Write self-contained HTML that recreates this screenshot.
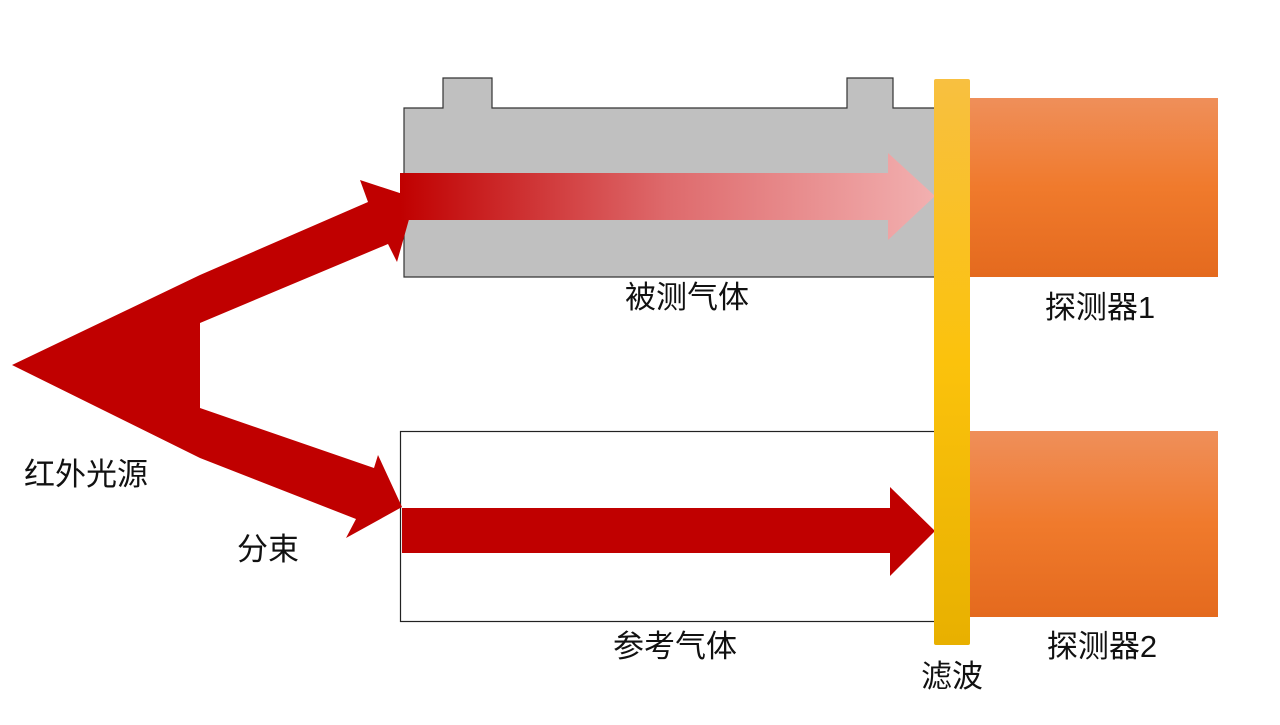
<!DOCTYPE html>
<html><head><meta charset="utf-8"><style>
body{margin:0;background:#fff;}
svg text{font-family:"Liberation Sans","Noto Sans CJK SC",sans-serif;font-size:31px;fill:#111;}
</style></head><body>
<svg width="1280" height="720" viewBox="0 0 1280 720" xmlns="http://www.w3.org/2000/svg">
<defs>
<linearGradient id="ga" x1="0" x2="1" y1="0" y2="0">
<stop offset="0" stop-color="#c00000"/><stop offset="0.5" stop-color="#de6a6c"/><stop offset="1" stop-color="#f2b0b0"/>
</linearGradient>
<linearGradient id="gy" x1="0" x2="0" y1="0" y2="1">
<stop offset="0" stop-color="#f8c040"/><stop offset="0.5" stop-color="#fbc20c"/><stop offset="1" stop-color="#e8b000"/>
</linearGradient>
<linearGradient id="go" x1="0" x2="0" y1="0" y2="1">
<stop offset="0" stop-color="#ef8f5a"/><stop offset="0.5" stop-color="#f07a2c"/><stop offset="1" stop-color="#e46a1e"/>
</linearGradient>
</defs>
<path d="M404,108 H443 V78 H492 V108 H847 V78 H893 V108 H935 V277 H404 Z" fill="#c0c0c0" stroke="#333" stroke-width="1.2"/>
<rect x="400.5" y="431.5" width="535" height="190" fill="#fff" stroke="#222" stroke-width="1.2"/>
<polygon fill="#c00000" points="12,365 200,275 368,202 360,180 415,198 397,262 388,244 200,323 200,408 374,468 378,455 402,507 346,538 356,519 200,458"/>
<polygon fill="url(#ga)" points="400,173 888,173 888,153 935,196 888,240 888,220 400,220"/>
<polygon fill="#c00000" points="402,508 890,508 890,487 935,531 890,576 890,553 402,553"/>
<rect x="934" y="79" width="36" height="566" rx="2" fill="url(#gy)"/>
<rect x="970" y="98" width="248" height="179" fill="url(#go)"/>
<rect x="970" y="431" width="248" height="186" fill="url(#go)"/>
<text x="687" y="308" text-anchor="middle">被测气体</text>
<text x="1100" y="318" text-anchor="middle">探测器1</text>
<text x="675" y="657" text-anchor="middle">参考气体</text>
<text x="1102" y="657" text-anchor="middle">探测器2</text>
<text x="952" y="687" text-anchor="middle">滤波</text>
<text x="86" y="485" text-anchor="middle">红外光源</text>
<text x="268" y="560" text-anchor="middle">分束</text>
</svg>
</body></html>
